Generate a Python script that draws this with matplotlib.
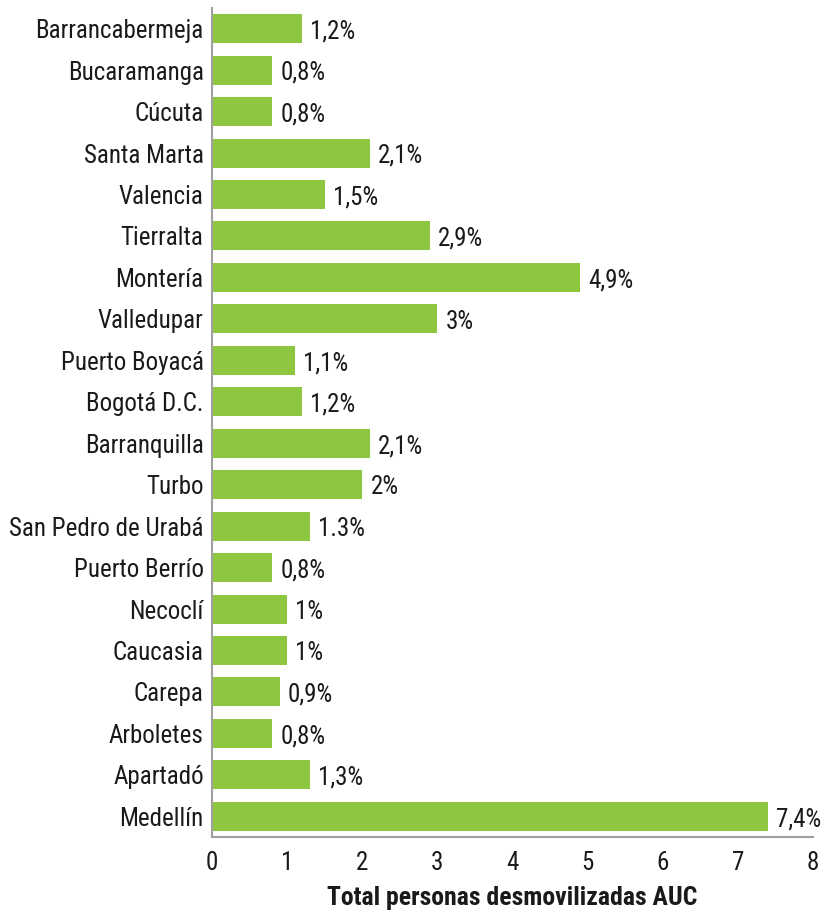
import matplotlib
matplotlib.use("Agg")
import matplotlib.pyplot as plt
from matplotlib import font_manager

# cities top to bottom as in the chart
ciudades = ["Barrancabermeja", "Bucaramanga", "Cúcuta", "Santa Marta", "Valencia",
            "Tierralta", "Montería", "Valledupar", "Puerto Boyacá", "Bogotá D.C.",
            "Barranquilla", "Turbo", "San Pedro de Urabá", "Puerto Berrío", "Necoclí",
            "Caucasia", "Carepa", "Arboletes", "Apartadó", "Medellín"]
valores = [1.2, 0.8, 0.8, 2.1, 1.5, 2.9, 4.9, 3.0, 1.1, 1.2,
           2.1, 2.0, 1.3, 0.8, 1.0, 1.0, 0.9, 0.8, 1.3, 7.4]
etiquetas = ["1,2%", "0,8%", "0,8%", "2,1%", "1,5%", "2,9%", "4,9%", "3%", "1,1%", "1,2%",
             "2,1%", "2%", "1.3%", "0,8%", "1%", "1%", "0,9%", "0,8%", "1,3%", "7,4%"]
xticks = [0, 1, 2, 3, 4, 5, 6, 7, 8]

nombres = {f.name for f in font_manager.fontManager.ttflist}
fuente = "DejaVu Sans"
for cand in ["Roboto Condensed", "Archivo Narrow", "Liberation Sans Narrow", "Barlow Condensed"]:
    if cand in nombres:
        fuente = cand
        break
plt.rcParams['font.family'] = [fuente, 'DejaVu Sans']

fs = 18
fig = plt.figure(figsize=(8.33, 9.15), dpi=100)
ax = fig.add_axes([212/833, 78/915, 601/833, 829/915])

pos = list(range(len(ciudades)))
ax.barh(pos, valores, height=0.7, color="#8dc63f")
for p, v, t in zip(pos, valores, etiquetas):
    ax.annotate(t, (v, p), xytext=(6, -2), textcoords="offset points",
                va="center", ha="left", fontsize=fs, color="#1a1a1a")

ax.set_ylim(len(ciudades) - 0.5, -0.5)
ax.set_xlim(0, 8)
ax.set_yticks(pos)
ax.set_yticklabels(ciudades, fontsize=fs, color="#1a1a1a")
ax.set_xticks(xticks)
ax.set_xticklabels([str(x) for x in xticks], fontsize=fs, color="#1a1a1a")
ax.tick_params(axis="both", length=0)
ax.tick_params(axis="y", pad=6)
ax.tick_params(axis="x", pad=10)
ax.set_xlabel("Total personas desmovilizadas AUC", fontsize=18.5, fontweight="bold",
              color="#1a1a1a", labelpad=8)

for s in ["top", "right"]:
    ax.spines[s].set_visible(False)
for s in ["left", "bottom"]:
    ax.spines[s].set_color("#a0a0a0")
    ax.spines[s].set_linewidth(1.5)

fig.savefig("out.png", dpi=100)
